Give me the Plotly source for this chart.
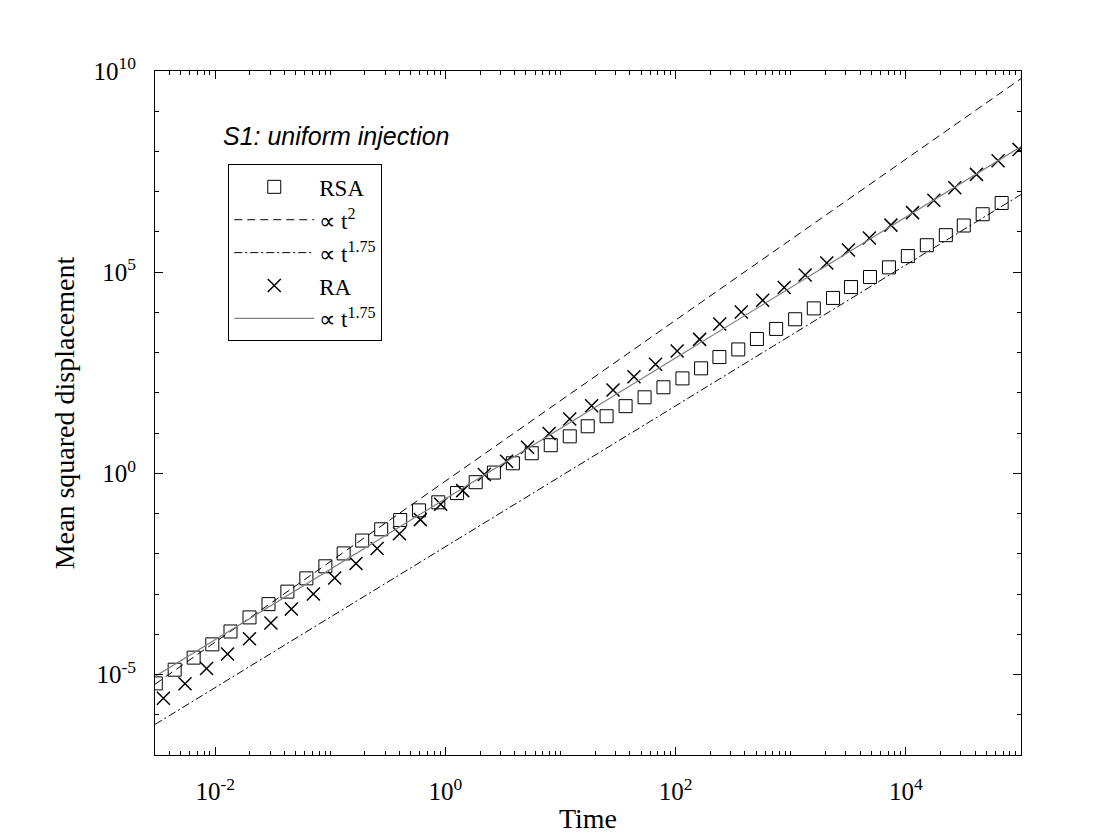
import numpy as np
import plotly.graph_objects as go

# values, stored as log10 exponents
rsa_log_t = [-2.516, -2.352, -2.187, -2.025, -1.867, -1.702, -1.537, -1.373, -1.208, -1.043,
             -0.884, -0.723, -0.558, -0.393, -0.229, -0.062, 0.101, 0.263, 0.421, 0.586,
             0.750, 0.915, 1.080, 1.236, 1.400, 1.565, 1.730, 1.894, 2.059, 2.221,
             2.380, 2.544, 2.706, 2.873, 3.038, 3.200, 3.367, 3.523, 3.688, 3.853,
             4.017, 4.182, 4.347, 4.503, 4.667, 4.832]
rsa_log_msd = [-5.22, -4.88, -4.58, -4.25, -3.93, -3.58, -3.25, -2.94, -2.61, -2.31,
               -1.99, -1.67, -1.39, -1.16, -0.92, -0.72, -0.49, -0.22, 0.02, 0.25,
               0.50, 0.70, 0.92, 1.17, 1.42, 1.67, 1.89, 2.14, 2.36, 2.61,
               2.89, 3.08, 3.34, 3.59, 3.83, 4.10, 4.36, 4.63, 4.88, 5.12,
               5.40, 5.67, 5.92, 6.16, 6.44, 6.72]

ra_log_t = [-2.450, -2.262, -2.075, -1.893, -1.702, -1.516, -1.338, -1.147, -0.962, -0.777,
            -0.593, -0.399, -0.218, -0.041, 0.150, 0.338, 0.531, 0.713, 0.901, 1.080,
            1.270, 1.456, 1.638, 1.825, 2.013, 2.208, 2.383, 2.570, 2.756, 2.943,
            3.125, 3.313, 3.501, 3.683, 3.870, 4.058, 4.243, 4.425, 4.613, 4.801, 4.983]
ra_log_msd = [-5.59, -5.23, -4.85, -4.49, -4.11, -3.72, -3.37, -3.00, -2.60, -2.24,
              -1.87, -1.50, -1.15, -0.77, -0.43, -0.03, 0.30, 0.65, 0.99, 1.35,
              1.68, 2.07, 2.40, 2.71, 3.04, 3.33, 3.71, 4.01, 4.30, 4.62,
              4.93, 5.23, 5.55, 5.85, 6.17, 6.48, 6.79, 7.10, 7.43, 7.77, 8.05]

# power-law guide lines, log10 of msd at the two ends of the time axis
ref_t = [0.003, 1e5]
ref_t2_log = [-5.24, 9.81]
ref_t175_low_log = [-6.24, 6.93]
ref_t175_ra_log = [-5.05, 8.12]

names = ["RSA", "\u221d t<sup>2</sup>", "\u221d t<sup>1.75</sup>", "RA", "\u221d t<sup>1.75</sup>"]

x_tick_vals = [1e-2, 1e0, 1e2, 1e4]
x_tick_text = ["10<sup>-2</sup>", "10<sup>0</sup>", "10<sup>2</sup>", "10<sup>4</sup>"]
y_tick_vals = [1e-5, 1e0, 1e5, 1e10]
y_tick_text = ["10<sup>-5</sup>", "10<sup>0</sup>", "10<sup>5</sup>", "10<sup>10</sup>"]

SERIF = "Liberation Serif"

x_minor = [m * 10.0 ** d for d in range(-3, 5) for m in range(1, 10)
           if 0.003 <= m * 10.0 ** d <= 1e5 and m * 10.0 ** d not in x_tick_vals]
x_minor.append(1e5)
y_minor = [10.0 ** d for d in range(-7, 11) if 10.0 ** d not in y_tick_vals]

fig = go.Figure()
fig.add_trace(go.Scatter(x=10 ** np.array(rsa_log_t), y=10 ** np.array(rsa_log_msd),
                         mode='markers', name=names[0],
                         marker=dict(symbol='square-open', size=13, color='black',
                                     line=dict(width=1, color='black'))))
fig.add_trace(go.Scatter(x=ref_t, y=10 ** np.array(ref_t2_log), mode='lines', name=names[1],
                         line=dict(color='black', width=1, dash='8px,5px')))
fig.add_trace(go.Scatter(x=ref_t, y=10 ** np.array(ref_t175_low_log), mode='lines', name=names[2],
                         line=dict(color='black', width=1, dash='8px,3px,2px,3px')))
fig.add_trace(go.Scatter(x=10 ** np.array(ra_log_t), y=10 ** np.array(ra_log_msd),
                         mode='markers', name=names[3],
                         marker=dict(symbol='x-thin-open', size=13, color='black',
                                     line=dict(width=1.5, color='black'))))
fig.add_trace(go.Scatter(x=ref_t, y=10 ** np.array(ref_t175_ra_log), mode='lines', name=names[4],
                         line=dict(color='rgb(128,128,128)', width=1.2)))

axis_common = dict(type='log', showline=True, linecolor='black', linewidth=1, mirror='ticks',
                   ticks='inside', ticklen=8, tickcolor='black', showgrid=False, zeroline=False,
                   tickfont=dict(family=SERIF, size=25, color='black'))

fig.update_xaxes(range=[np.log10(0.003), 5], tickvals=x_tick_vals, ticktext=x_tick_text,
                 minor=dict(tickvals=x_minor, ticks='inside', ticklen=4, tickcolor='black', showgrid=False),
                 ticklabelstandoff=14,
                 title=dict(text="Time", font=dict(family=SERIF, size=28, color='black'), standoff=4),
                 **axis_common)
fig.update_yaxes(range=[-7, 10], tickvals=y_tick_vals, ticktext=y_tick_text,
                 minor=dict(tickvals=y_minor, ticks='inside', ticklen=4, tickcolor='black', showgrid=False),
                 ticklabelstandoff=13,
                 title=dict(text="Mean squared displacement", font=dict(family=SERIF, size=28, color='black'),
                            standoff=10),
                 **axis_common)

fig.add_annotation(text="<i>S1: uniform injection</i>", xref='paper', yref='paper',
                   x=0.076, y=0.905, xanchor='left', yanchor='middle', showarrow=False,
                   font=dict(family="Liberation Sans", size=25, color='black'))

fig.update_layout(
    width=1120, height=840,
    margin=dict(l=147, r=107, t=63, b=93),
    plot_bgcolor='white', paper_bgcolor='white',
    legend=dict(x=0.0846, y=0.8635, xanchor='left', yanchor='top',
                bordercolor='black', borderwidth=1, bgcolor='white',
                font=dict(family=SERIF, size=23, color='black'),
                itemwidth=80, tracegroupgap=0),
)

fig.write_html("out.html")
